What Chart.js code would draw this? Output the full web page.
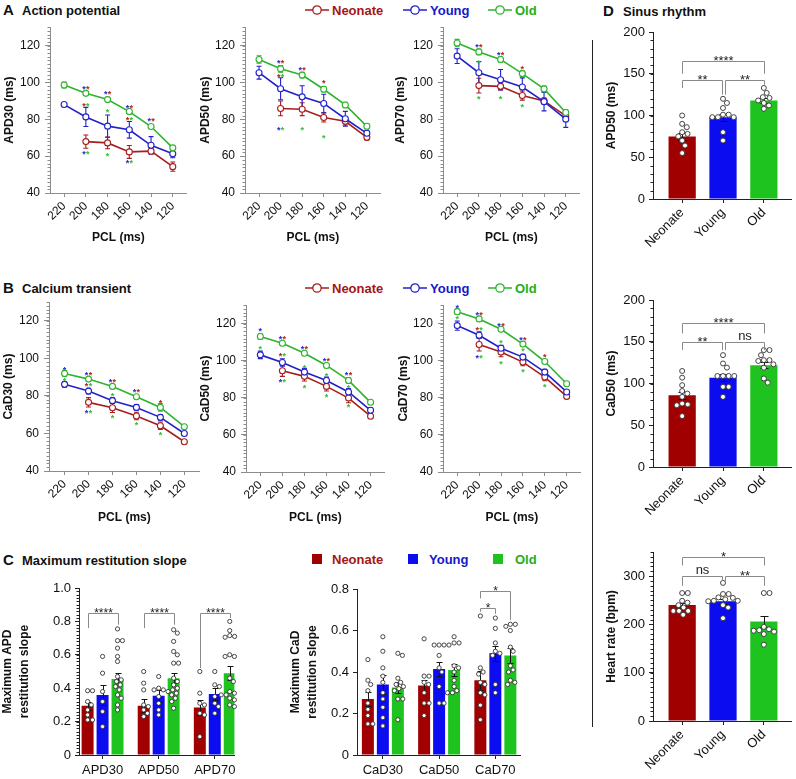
<!DOCTYPE html>
<html><head><meta charset="utf-8">
<script src="https://cdn.jsdelivr.net/npm/chart.js@4.4.1/dist/chart.umd.min.js"></script>
<style>
html,body{margin:0;padding:0;background:#fff;}
body{width:796px;height:779px;position:relative;overflow:hidden;font-family:'Liberation Sans',Arial,Helvetica,sans-serif;}
canvas{position:absolute;}
.lbl{position:absolute;white-space:nowrap;font-weight:bold;line-height:1;color:#111;}
.let{font-size:15px;}
.ttl{font-size:13px;}
.leg{position:absolute;white-space:nowrap;font-weight:bold;font-size:13px;line-height:1;}
.sq{position:absolute;width:10px;height:10px;}
svg{position:absolute;overflow:visible;}
#sep{position:absolute;left:592px;top:40px;width:1px;height:687px;background:#222;}
</style></head><body>
<div class="lbl let" style="left:3px;top:2px">A</div>
<div class="lbl ttl" style="left:22px;top:3.5px">Action potential</div>
<div class="lbl let" style="left:3px;top:280px">B</div>
<div class="lbl ttl" style="left:22px;top:281.5px">Calcium transient</div>
<div class="lbl let" style="left:3px;top:552px">C</div>
<div class="lbl ttl" style="left:22px;top:553.5px">Maximum restitution slope</div>
<div class="lbl let" style="left:603px;top:3px">D</div>
<div class="lbl ttl" style="left:623px;top:4.5px">Sinus rhythm</div>
<div id="sep"></div>
<div id="legends"></div>
<script>
// ---------------- DATA ----------------
const GROUPS = ['Neonate', 'Young', 'Old'];
const PCL = [220, 200, 180, 160, 140, 120];
const PCL_AXIS = [107, 233];

// Panel A: action potential duration (ms), mean and SEM per PCL
const apd30_neonate = [null, 67.9, 67.2, 62.3, 62.7, 54.3];
const apd30_neonate_sem = [null, 3.6, 3.2, 3.5, 1.5, 2.5];
const apd30_young = [88.0, 81.3, 76.3, 74.3, 65.9, 61.3];
const apd30_young_sem = [0, 5.2, 6.0, 4.5, 4.7, 2.2];
const apd30_old = [98.6, 94.1, 90.7, 84.2, 76.1, 64.5];
const apd30_old_sem = [1.6, 1.2, 1.2, 1.3, 1.0, 1.0];

const apd50_neonate = [null, 85.9, 85.5, 81.0, 78.9, 70.2];
const apd50_neonate_sem = [null, 4.0, 3.5, 2.5, 2.0, 1.5];
const apd50_young = [105.3, 96.6, 92.2, 88.6, 80.3, 72.4];
const apd50_young_sem = [3.5, 6.0, 6.0, 5.0, 4.0, 1.5];
const apd50_old = [112.5, 107.4, 104.0, 96.3, 87.8, 76.2];
const apd50_old_sem = [2.0, 1.8, 1.5, 1.5, 1.5, 1.5];

const apd70_neonate = [null, 98.3, 97.9, 92.9, 90.0, 81.9];
const apd70_neonate_sem = [null, 4.0, 2.0, 2.5, 1.5, 1.0];
const apd70_young = [114.3, 105.3, 101.5, 97.5, 89.6, 80.1];
const apd70_young_sem = [4.0, 6.0, 5.5, 5.0, 5.0, 4.5];
const apd70_old = [121.4, 116.6, 112.5, 104.8, 96.5, 83.7];
const apd70_old_sem = [2.0, 1.5, 1.5, 1.5, 1.5, 1.5];

// Panel B: calcium transient duration (ms)
const cad30_neonate = [null, 76.6, 73.7, 69.3, 64.1, 55.6];
const cad30_neonate_sem = [null, 2.5, 2.5, 2.0, 2.0, 1.0];
const cad30_young = [86.2, 82.6, 77.5, 73.9, 68.6, 60.0];
const cad30_young_sem = [1.5, 1.5, 1.5, 1.5, 1.5, 1.0];
const cad30_old = [92.0, 89.0, 85.1, 79.6, 73.9, 63.6];
const cad30_old_sem = [1.5, 1.0, 1.0, 1.0, 2.0, 1.0];

const cad50_neonate = [null, 94.6, 91.6, 86.2, 79.9, 70.1];
const cad50_neonate_sem = [null, 3.0, 2.5, 2.5, 2.5, 1.0];
const cad50_young = [103.2, 99.1, 93.9, 89.4, 83.2, 73.3];
const cad50_young_sem = [2.0, 2.0, 2.0, 1.8, 1.8, 1.5];
const cad50_old = [113.1, 109.5, 104.1, 97.5, 89.4, 77.6];
const cad50_old_sem = [1.5, 1.2, 1.2, 1.2, 1.5, 1.0];

const cad70_neonate = [null, 108.8, 104.7, 99.3, 91.2, 80.8];
const cad70_neonate_sem = [null, 3.5, 2.5, 2.0, 2.0, 1.0];
const cad70_young = [119.0, 113.8, 106.8, 102.0, 93.9, 83.2];
const cad70_young_sem = [2.5, 1.8, 1.5, 1.5, 1.5, 1.2];
const cad70_old = [126.5, 122.6, 117.0, 109.0, 99.6, 87.6];
const cad70_old_sem = [1.5, 1.0, 1.0, 1.0, 1.0, 1.0];

// significance stars: [PCL, level (ms), colours r/b/g]
const apd30_stars = [[200,97.8,'br'],[200,88.3,'rg'],[200,62,'bg'],[180,94.6,'br'],[180,84.8,'g'],[180,60.9,'g'],[160,87.4,'br'],[160,80.8,'rg'],[160,57.3,'bg'],[140,79.9,'br']];
const apd50_stars = [[200,111.6,'br'],[200,104,'rg'],[200,75.3,'bg'],[180,108,'br'],[180,75.3,'g'],[160,100.8,'r'],[160,71.1,'g']];
const apd70_stars = [[200,120.5,'br'],[200,111.5,'g'],[200,92.3,'g'],[180,116,'br'],[180,92.3,'g'],[160,108.3,'r'],[160,87.8,'g']];
const cad30_stars = [[220,95,'b'],[220,89.3,'g'],[200,92,'br'],[200,86.2,'rg'],[200,72,'bg'],[180,88.5,'br'],[180,81,'g'],[180,69.5,'g'],[160,83.1,'br'],[160,65.4,'g'],[140,77.3,'r'],[140,60,'g']];
const cad50_stars = [[220,117,'b'],[220,107.3,'g'],[200,113.1,'br'],[200,103.6,'rg'],[200,89.4,'bg'],[180,107.3,'br'],[180,97.3,'g'],[180,86.6,'g'],[160,100.9,'br'],[160,92.8,'g'],[160,81.7,'g'],[140,93.4,'br'],[140,86.6,'g'],[140,76,'g']];
const cad70_stars = [[220,129.7,'b'],[220,123.8,'g'],[200,125.6,'br'],[200,117.6,'rg'],[200,102.7,'bg'],[180,119.9,'br'],[180,110.9,'g'],[180,99.3,'g'],[160,112.2,'br'],[160,106.3,'g'],[160,95.2,'g'],[140,102.9,'r'],[140,86.7,'g']];

// Panel C: maximum restitution slope
const apdSlope_cats = ['APD30', 'APD50', 'APD70'];
const apdSlope_neonate = [0.295, 0.295, 0.285];
const apdSlope_neonate_sem = [0.025, 0.04, 0.045];
const apdSlope_young = [0.36, 0.355, 0.365];
const apdSlope_young_sem = [0.06, 0.035, 0.035];
const apdSlope_old = [0.455, 0.46, 0.49];
const apdSlope_old_sem = [0.035, 0.03, 0.04];
const apdSlope_neonate_pts = [[0.385,0.385,0.32,0.3,0.27,0.24,0.21,0.21],[0.5,0.43,0.39,0.3,0.29,0.27,0.25,0.23],[0.5,0.37,0.31,0.3,0.25,0.24,0.11]];
const apdSlope_young_pts = [[0.59,0.49,0.38,0.32,0.26,0.17],[0.47,0.4,0.39,0.39,0.35,0.31,0.27,0.24],[0.5,0.42,0.41,0.35,0.31,0.29,0.25]];
const apdSlope_old_pts = [[0.755,0.685,0.685,0.64,0.59,0.56,0.47,0.45,0.44,0.42,0.41,0.39,0.36,0.34,0.3,0.27],[0.75,0.73,0.68,0.62,0.6,0.55,0.55,0.46,0.44,0.42,0.4,0.39,0.38,0.37,0.36,0.34,0.32,0.28],[0.8,0.745,0.715,0.71,0.705,0.6,0.59,0.59,0.46,0.44,0.38,0.37,0.36,0.36,0.34,0.33,0.3,0.29]];

const cadSlope_cats = ['CaD30', 'CaD50', 'CaD70'];
const cadSlope_neonate = [0.27, 0.335, 0.36];
const cadSlope_neonate_sem = [0.035, 0.025, 0.045];
const cadSlope_young = [0.34, 0.415, 0.49];
const cadSlope_young_sem = [0.045, 0.035, 0.035];
const cadSlope_old = [0.325, 0.41, 0.48];
const cadSlope_old_sem = [0.025, 0.028, 0.035];
const cadSlope_neonate_pts = [[0.46,0.36,0.34,0.31,0.25,0.22,0.19,0.15,0.15],[0.56,0.38,0.38,0.35,0.34,0.3,0.25,0.25,0.19],[0.67,0.42,0.4,0.39,0.35,0.34,0.3,0.29,0.24,0.17]];
const cadSlope_young_pts = [[0.57,0.5,0.42,0.38,0.35,0.3,0.27,0.23,0.18,0.14],[0.53,0.53,0.53,0.53,0.48,0.42,0.4,0.33,0.25,0.25],[0.66,0.61,0.54,0.5,0.49,0.48,0.34,0.3]];
const cadSlope_old_pts = [[0.48,0.49,0.37,0.35,0.34,0.33,0.32,0.31,0.27,0.27,0.17],[0.57,0.54,0.54,0.43,0.42,0.4,0.36,0.33,0.31,0.3,0.3],[0.63,0.63,0.62,0.6,0.52,0.5,0.43,0.41,0.4,0.36,0.35,0.34]];

// Panel D: sinus rhythm
const sr_apd50_mean = [75, 98, 118];
const sr_apd50_sem = [4, 4, 3];
const sr_apd50_pts = [[100,90,86,80,78,75,70,64,55],[120,115,109,101,101,98,98,98,80,70],[133,127,122,121,118,115,112,108]];
const sr_cad50_mean = [86, 107, 122];
const sr_cad50_sem = [4, 4, 4];
const sr_cad50_pts = [[115,107,98,91,88,84,76,75,74,61],[134,124,119,109,109,109,109,96,96,84],[140,140,134,128,128,127,123,119,106,101]];
const sr_hr_mean = [240, 248, 206];
const sr_hr_sem = [5, 5, 12];
const sr_hr_pts = [[265,265,249,245,240,235,228,228,228,220],[286,263,263,256,255,252,249,249,248,240,235,213],[265,265,195,190,188,187,185,180,158]];

// ---------------- STYLE ----------------
const FONT = "'Liberation Sans', Arial, Helvetica, sans-serif";
Chart.defaults.font.family = FONT;
Chart.defaults.color = '#111';
const LINE_COL = ['#a81d1d', '#2121cc', '#2db42d'];
const BAR_COL = ['#a00000', '#0c0cf0', '#1fc31f'];
const TEXT_COL = ['#a51616', '#1717cc', '#1eae1e'];
const STAR_COL = {r:'#b82020', b:'#2828d2', g:'#35bd35'};
const AXG = '#8c8c8c', AXD = '#222';

// legends
(function(){
  const L = document.getElementById('legends');
  const lx = [[305,332],[403,430],[488,515]];
  [10, 288].forEach(cy => {
    lx.forEach((p,k) => {
      L.insertAdjacentHTML('beforeend',
        `<svg style="left:${p[0]}px;top:${cy-5}px" width="24" height="10"><line x1="0" y1="5" x2="24" y2="5" stroke="${LINE_COL[k]}" stroke-width="1.5"/><circle cx="12" cy="5" r="4.2" fill="#fff" stroke="${LINE_COL[k]}" stroke-width="1.3"/></svg>` +
        `<div class="leg" style="left:${p[1]}px;top:${cy-6.5}px;color:${TEXT_COL[k]}">${GROUPS[k]}</div>`);
    });
  });
  const sx = [[312,332],[408,429],[493,515]];
  sx.forEach((p,k) => {
    L.insertAdjacentHTML('beforeend',
      `<div class="sq" style="left:${p[0]}px;top:554px;background:${BAR_COL[k]}"></div>` +
      `<div class="leg" style="left:${p[1]}px;top:552.5px;color:${TEXT_COL[k]}">${GROUPS[k]}</div>`);
  });
})();

// ---------------- PLUGINS ----------------
function minorTicks(step, len, color) {
  return { id:'minorTicks', afterDraw(chart) {
    const s = chart.scales.y, ctx = chart.ctx, x = chart.chartArea.left;
    const n = Math.round((s.max - s.min) / step);
    ctx.save(); ctx.strokeStyle = color; ctx.lineWidth = 1;
    for (let i = 0; i <= n; i++) {
      const y = Math.round(s.getPixelForValue(s.min + i * step)) + 0.5;
      ctx.beginPath(); ctx.moveTo(x, y); ctx.lineTo(x - len, y); ctx.stroke();
    }
    ctx.restore();
  }};
}
const lineErr = { id:'lineErr', beforeDatasetsDraw(chart) {
  const ctx = chart.ctx, ys = chart.scales.y;
  chart.data.datasets.forEach((ds, i) => {
    const meta = chart.getDatasetMeta(i);
    ctx.save(); ctx.strokeStyle = ds.borderColor; ctx.lineWidth = 1.1;
    meta.data.forEach((pt, j) => {
      const d = ds.data[j]; if (!d.e) return;
      const x = pt.x, t = ys.getPixelForValue(d.y + d.e), b = ys.getPixelForValue(d.y - d.e);
      ctx.beginPath(); ctx.moveTo(x, t); ctx.lineTo(x, b);
      ctx.moveTo(x - 2.5, t); ctx.lineTo(x + 2.5, t); ctx.moveTo(x - 2.5, b); ctx.lineTo(x + 2.5, b); ctx.stroke();
    });
    ctx.restore();
  });
}};
function starPlugin(list) {
  return { id:'stars', afterDatasetsDraw(chart) {
    const ctx = chart.ctx, xs = chart.scales.x, ys = chart.scales.y;
    ctx.save(); ctx.font = 'bold 9px ' + FONT; ctx.textAlign = 'center'; ctx.textBaseline = 'alphabetic';
    list.forEach(([xv, yv, cols]) => {
      const x = xs.getPixelForValue(xv), y = ys.getPixelForValue(yv);
      const n = cols.length;
      for (let k = 0; k < n; k++) {
        ctx.fillStyle = STAR_COL[cols[k]];
        ctx.fillText('*', x + (k - (n - 1) / 2) * 3.8, y + 5);
      }
    });
    ctx.restore();
  }};
}
function barErr(cap) {
  return { id:'barErr', afterDatasetDraw(chart, args) {
    const ds = chart.data.datasets[args.index]; if (ds.type !== 'bar') return;
    const ys = chart.scales.y, ctx = chart.ctx;
    ctx.save(); ctx.strokeStyle = '#151515'; ctx.lineWidth = 1;
    args.meta.data.forEach((el, j) => {
      const d = ds.data[j];
      const x = Math.round(el.x) + 0.5;
      const t = Math.round(ys.getPixelForValue(d.y + d.e)) + 0.5, b = Math.round(ys.getPixelForValue(d.y - d.e)) + 0.5;
      ctx.beginPath(); ctx.moveTo(x, t); ctx.lineTo(x, b);
      ctx.moveTo(x - cap, t); ctx.lineTo(x + cap, t); ctx.moveTo(x - cap, b); ctx.lineTo(x + cap, b); ctx.stroke();
    });
    ctx.restore();
  }};
}
function brackets(list, size) {
  return { id:'brackets', afterDraw(chart) {
    const ys = chart.scales.y, ctx = chart.ctx;
    ctx.save(); ctx.strokeStyle = '#8a8a8a'; ctx.lineWidth = 1; ctx.fillStyle = '#222'; ctx.textAlign = 'center';
    list.forEach(b => {
      const xa = Math.round(chart.getDatasetMeta(b.a[0]).data[b.a[1]].x + (b.dxa || 0)) + 0.5;
      const xb = Math.round(chart.getDatasetMeta(b.b[0]).data[b.b[1]].x + (b.dxb || 0)) + 0.5;
      const y = Math.round(ys.getPixelForValue(b.y)) + 0.5;
      ctx.beginPath(); ctx.moveTo(xa, ys.getPixelForValue(b.la)); ctx.lineTo(xa, y); ctx.lineTo(xb, y); ctx.lineTo(xb, ys.getPixelForValue(b.lb)); ctx.stroke();
      const star = b.t.indexOf('*') >= 0;
      ctx.font = size + 'px ' + FONT;
      ctx.fillText(b.t, (xa + xb) / 2, star ? y + 3 : y - 3);
    });
    ctx.restore();
  }};
}

// beeswarm horizontal layout of dots (x offsets in axis units)
function swarm(vals, cx, pxX, pxY, d) {
  const idx = vals.map((v, i) => i).sort((a, b) => vals[b] - vals[a]);
  const placed = [], out = new Array(vals.length);
  idx.forEach(i => {
    const py = vals[i] * pxY, forb = [];
    placed.forEach(p => {
      const dy = Math.abs(p.py - py);
      if (dy < d) { const w = Math.sqrt(d * d - dy * dy); forb.push([p.px - w, p.px + w]); }
    });
    const cands = [0];
    forb.forEach(f => cands.push(f[1], f[0]));
    cands.sort((a, b) => Math.abs(a) - Math.abs(b));
    let px = 0;
    for (const c of cands) {
      if (forb.every(f => c <= f[0] + 1e-6 || c >= f[1] - 1e-6)) { px = c; break; }
    }
    placed.push({px, py});
    out[i] = {x: cx + px / pxX, y: vals[i]};
  });
  return out;
}

// ---------------- CHART BUILDERS ----------------
function mk(box, plot, cfg) {
  const cv = document.createElement('canvas');
  cv.width = box.w; cv.height = box.h;
  cv.style.left = box.x + 'px'; cv.style.top = box.y + 'px';
  cv.style.width = box.w + 'px'; cv.style.height = box.h + 'px';
  document.body.appendChild(cv);
  const o = cfg.options;
  o.responsive = false; o.animation = false; o.events = [];
  o.plugins = {legend:{display:false}, tooltip:{enabled:false}};
  o.layout = {padding:{left:0, top:plot.t - box.y, right:box.x + box.w - plot.r, bottom:0}};
  o.scales.x.afterFit = s => { s.height = box.y + box.h - plot.b; };
  o.scales.y.afterFit = s => { s.width = plot.l - box.x; };
  return new Chart(cv, cfg);
}
function yAxis(min, max, ticks, title, color, size, fmt, tickLen, pad) {
  return {
    type:'linear', min, max,
    afterBuildTicks: s => { s.ticks = ticks.map(v => ({value:v})); },
    ticks:{font:{size}, color:'#111', padding:pad, callback: fmt || (v => String(v))},
    grid:{display:true, drawOnChartArea:false, drawTicks:true, tickLength:tickLen, color},
    border:{display:true, color, width:1},
    title:{display:true, text:title, color:'#111', font:{size:12, weight:'bold', lineHeight:1.35}, padding:{top:0, bottom:0}}
  };
}
function lineChart(box, plot, title, series, sems, stars) {
  const datasets = series.map((vals, k) => ({
    type:'line',
    data: PCL.map((p, i) => vals[i] == null ? null : {x:p, y:vals[i], e:sems[k][i]}).filter(Boolean),
    borderColor: LINE_COL[k], backgroundColor:'#fff', borderWidth:1.6,
    pointRadius:3, pointBackgroundColor:'#fff', pointBorderColor:LINE_COL[k], pointBorderWidth:1.1,
    fill:false, tension:0, order:3 - k, clip:false
  }));
  return mk(box, plot, {
    type:'line', data:{datasets},
    options:{ scales:{
      x:{type:'linear', reverse:true, min:PCL_AXIS[0], max:PCL_AXIS[1], offset:false,
         afterBuildTicks: s => { s.ticks = PCL.map(v => ({value:v})); },
         ticks:{font:{size:12}, color:'#111', minRotation:45, maxRotation:45, autoSkip:false, padding:2},
         grid:{display:true, drawOnChartArea:false, drawTicks:true, tickLength:4, color:AXG},
         border:{display:true, color:AXG, width:1},
         title:{display:true, text:'PCL (ms)', color:'#111', font:{size:12, weight:'bold'}, padding:{top:0, bottom:0}}},
      y: yAxis(40, 130, [40, 60, 80, 100, 120], title, AXG, 12, null, 5, 5)
    }},
    plugins:[minorTicks(2, 2.5, AXG), lineErr, starPlugin(stars)]
  });
}
function slopeChart(box, plot, title, cats, xr, means, sems, pts, yMax, yTicks, minor, brk) {
  const pxX = (plot.r - plot.l) / (xr[1] - xr[0]);
  const pxY = (plot.b - plot.t) / yMax;
  const datasets = means.map((m, k) => ({
    type:'bar', data: m.map((v, g) => ({x:g + 1, y:v, e:sems[k][g]})),
    backgroundColor: BAR_COL[k], borderWidth:0, categoryPercentage:0.8, barPercentage:0.8, order:2
  }));
  const dots = [];
  pts.forEach((grp, k) => grp.forEach((vals, g) => dots.push(...swarm(vals, g + 1 + (k - 1) * 0.8 / 3, pxX, pxY, 5.0))));
  datasets.push({type:'scatter', data:dots, pointRadius:2.1, pointBackgroundColor:'#fff', pointBorderColor:'#333', pointBorderWidth:0.9, order:1, clip:false});
  const fmt = v => v === 0 ? '0' : v.toFixed(1);
  return mk(box, plot, {
    type:'bar', data:{datasets},
    options:{ scales:{
      x:{type:'linear', min:xr[0], max:xr[1], offset:false,
         afterBuildTicks: s => { s.ticks = [1, 2, 3].map(v => ({value:v})); },
         ticks:{callback: v => cats[v - 1], font:{size:13}, color:'#111', maxRotation:0, autoSkip:false, padding:4},
         grid:{display:true, drawOnChartArea:false, drawTicks:true, tickLength:4, color:AXD, offset:false},
         border:{display:true, color:AXD, width:1}},
      y: yAxis(0, yMax, yTicks, title, AXD, 13, fmt, 4, 4)
    }},
    plugins: (minor ? [minorTicks(minor, 2.5, AXD)] : []).concat([barErr(3), brackets(brk, 12)])
  });
}
const D_X = [0.286, 3.667];
function dotChart(box, plot, title, means, sems, pts, yMax, yTicks, minor, brk) {
  const pxX = (plot.r - plot.l) / (D_X[1] - D_X[0]);
  const pxY = (plot.b - plot.t) / yMax;
  const dots = [];
  pts.forEach((vals, g) => dots.push(...swarm(vals, g + 1, pxX, pxY, 5.8)));
  return mk(box, plot, {
    type:'bar',
    data:{datasets:[
      {type:'bar', data: means.map((v, g) => ({x:g + 1, y:v, e:sems[g]})), backgroundColor: BAR_COL, borderWidth:0, categoryPercentage:1, barPercentage:0.667, order:2},
      {type:'scatter', data:dots, pointRadius:2.5, pointBackgroundColor:'#fff', pointBorderColor:'#333', pointBorderWidth:0.9, order:1, clip:false}
    ]},
    options:{ scales:{
      x:{type:'linear', min:D_X[0], max:D_X[1], offset:false,
         afterBuildTicks: s => { s.ticks = [1, 2, 3].map(v => ({value:v})); },
         ticks:{callback: v => GROUPS[v - 1], font:{size:13}, color:'#111', minRotation:45, maxRotation:45, autoSkip:false, padding:2},
         grid:{display:true, drawOnChartArea:false, drawTicks:true, tickLength:4, color:AXD, offset:false},
         border:{display:true, color:AXD, width:1}},
      y: yAxis(0, yMax, yTicks, title, AXD, 13, null, 4, 4)
    }},
    plugins:[minorTicks(minor, 2.5, AXD), barErr(4), brackets(brk, 13)]
  });
}

// ---------------- BUILD ----------------
// Panel A
lineChart({x:2, y:15, w:190, h:230}, {l:50, r:189, t:25, b:193}, 'APD30 (ms)',
  [apd30_neonate, apd30_young, apd30_old], [apd30_neonate_sem, apd30_young_sem, apd30_old_sem], apd30_stars);
lineChart({x:198, y:15, w:188, h:230}, {l:245, r:383, t:25, b:193}, 'APD50 (ms)',
  [apd50_neonate, apd50_young, apd50_old], [apd50_neonate_sem, apd50_young_sem, apd50_old_sem], apd50_stars);
lineChart({x:393, y:15, w:192, h:230}, {l:443, r:582, t:25, b:193}, 'APD70 (ms)',
  [apd70_neonate, apd70_young, apd70_old], [apd70_neonate_sem, apd70_young_sem, apd70_old_sem], apd70_stars);
// Panel B
lineChart({x:1, y:290, w:204, h:235}, {l:49, r:202, t:300, b:471}, 'CaD30 (ms)',
  [cad30_neonate, cad30_young, cad30_old], [cad30_neonate_sem, cad30_young_sem, cad30_old_sem], cad30_stars);
lineChart({x:198, y:293, w:192, h:232}, {l:246, r:387, t:305, b:472}, 'CaD50 (ms)',
  [cad50_neonate, cad50_young, cad50_old], [cad50_neonate_sem, cad50_young_sem, cad50_old_sem], cad50_stars);
lineChart({x:396, y:293, w:190, h:232}, {l:443, r:583, t:305, b:472}, 'CaD70 (ms)',
  [cad70_neonate, cad70_young, cad70_old], [cad70_neonate_sem, cad70_young_sem, cad70_old_sem], cad70_stars);
// Panel C
slopeChart({x:0, y:575, w:240, h:204}, {l:79, r:237, t:588, b:755}, ['Maximum APD', 'restitution slope'], apdSlope_cats, [0.58, 3.35],
  [apdSlope_neonate, apdSlope_young, apdSlope_old], [apdSlope_neonate_sem, apdSlope_young_sem, apdSlope_old_sem],
  [apdSlope_neonate_pts, apdSlope_young_pts, apdSlope_old_pts], 1.0, [0, 0.2, 0.4, 0.6, 0.8, 1.0], 0.02,
  [{a:[0,0], b:[2,0], y:0.85, la:0.76, lb:0.78, t:'****'},
   {a:[0,1], b:[2,1], y:0.85, la:0.76, lb:0.78, t:'****'},
   {a:[0,2], b:[2,2], y:0.85, la:0.52, lb:0.82, t:'****'}]);
slopeChart({x:288, y:575, w:237, h:204}, {l:357, r:522, t:589, b:755}, ['Maximum CaD', 'restitution slope'], cadSlope_cats, [0.54, 3.44],
  [cadSlope_neonate, cadSlope_young, cadSlope_old], [cadSlope_neonate_sem, cadSlope_young_sem, cadSlope_old_sem],
  [cadSlope_neonate_pts, cadSlope_young_pts, cadSlope_old_pts], 0.8, [0, 0.2, 0.4, 0.6, 0.8], 0,
  [{a:[0,2], b:[1,2], y:0.71, la:0.69, lb:0.68, t:'*'},
   {a:[0,2], b:[2,2], y:0.79, la:0.755, lb:0.65, t:'*'}]);
// Panel D
dotChart({x:604, y:20, w:192, h:255}, {l:653, r:795, t:32, b:199}, 'APD50 (ms)', sr_apd50_mean, sr_apd50_sem, sr_apd50_pts, 200, [0, 50, 100, 150, 200], 10,
  [{a:[0,0], b:[0,1], y:143, la:133, lb:125, t:'**', dxb:-1.5},
   {a:[0,1], b:[0,2], y:143, la:125, lb:137, t:'**', dxa:1.5},
   {a:[0,0], b:[0,2], y:165, la:150, lb:150, t:'****'}]);
dotChart({x:604, y:288, w:192, h:252}, {l:653, r:795, t:300, b:467}, 'CaD50 (ms)', sr_cad50_mean, sr_cad50_sem, sr_cad50_pts, 200, [0, 50, 100, 150, 200], 10,
  [{a:[0,0], b:[0,1], y:150, la:140, lb:140, t:'**', dxb:-1.5},
   {a:[0,1], b:[0,2], y:150, la:140, lb:140, t:'ns', dxa:1.5},
   {a:[0,0], b:[0,2], y:172, la:160, lb:160, t:'****'}]);
dotChart({x:604, y:535, w:192, h:244}, {l:653, r:795, t:552, b:721}, 'Heart rate (bpm)', sr_hr_mean, sr_hr_sem, sr_hr_pts, 350, [0, 100, 200, 300], 10,
  [{a:[0,0], b:[0,1], y:300, la:280, lb:290, t:'ns', dxb:-1.5},
   {a:[0,1], b:[0,2], y:300, la:290, lb:280, t:'**', dxa:1.5},
   {a:[0,0], b:[0,2], y:340, la:322, lb:322, t:'*'}]);
</script>
</body></html>
